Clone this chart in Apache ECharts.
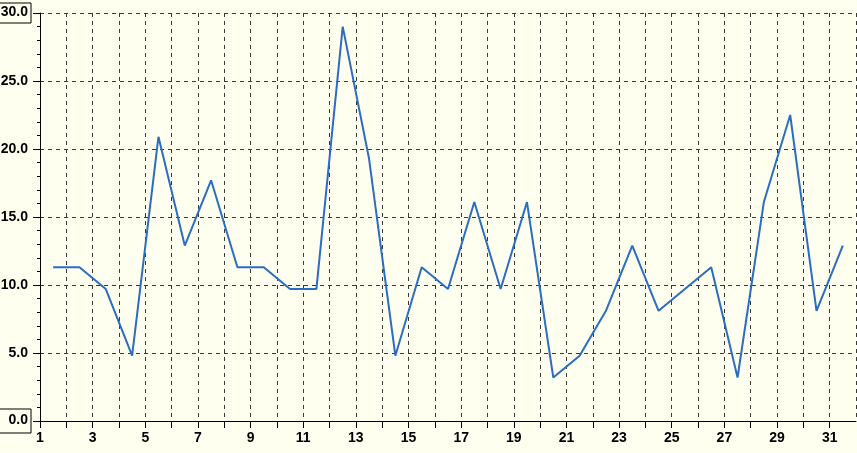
<!DOCTYPE html>
<html><head><meta charset="utf-8">
<script src="https://cdn.jsdelivr.net/npm/echarts@6/dist/echarts.min.js"></script>
<style>html,body{margin:0;padding:0;background:#FFFFF0;}#c{width:857px;height:453px;}</style>
</head><body><div id="c"></div>
<script>
const days = [1.5,2.5,3.5,4.5,5.5,6.5,7.5,8.5,9.5,10.5,11.5,12.5,13.5,14.5,15.5,16.5,17.5,18.5,19.5,20.5,21.5,22.5,23.5,24.5,25.5,26.5,27.5,28.5,29.5,30.5,31.5];
const values = [11.3,11.3,9.7,4.8,20.9,12.9,17.7,11.3,11.3,9.7,9.7,29.0,19.3,4.8,11.3,9.7,16.1,9.7,16.1,3.2,4.8,8.1,12.9,8.1,9.7,11.3,3.2,16.1,22.5,8.1,12.9];
const xTickLabels = ['1','3','5','7','9','11','13','15','17','19','21','23','25','27','29','31'];
const yMin = 0, yMax = 30, yStep = 5;

const chart = echarts.init(document.getElementById('c'), null, {renderer:'canvas'});
const font = '"Liberation Sans", Arial, sans-serif';
const txt = {fontWeight: 'bold', fontSize: 14, fontFamily: font, color: '#000', lineHeight: 14};
chart.setOption({
  backgroundColor: '#FFFFF0',
  animation: false,
  grid: {left: 40, right: 1, top: 13, bottom: 32, containLabel: false, outerBoundsMode: 'none'},
  xAxis: {
    type: 'value', min: 1, max: 32, interval: 1,
    axisLine: {show: true, lineStyle: {color: '#000', width: 1}},
    axisTick: {show: true, length: 7, lineStyle: {color: '#000'}},
    axisLabel: {
      margin: 10, color: '#000', fontWeight: 'bold', fontSize: 14, fontFamily: font,
      showMinLabel: true, showMaxLabel: false, hideOverlap: false,
      formatter: v => { const s = String(Math.round(v)); return xTickLabels.indexOf(s) >= 0 ? s : ''; }
    },
    splitLine: {show: true, lineStyle: {color: '#383838', type: [4,4], width: 1}}
  },
  yAxis: {
    type: 'value', min: yMin, max: yMax, interval: yStep,
    axisLine: {show: true, lineStyle: {color: '#000', width: 1}},
    axisTick: {show: true, length: 7, lineStyle: {color: '#000'}},
    minorTick: {show: true, splitNumber: 5, length: 3, lineStyle: {color: '#000'}},
    axisLabel: {
      margin: 9, color: '#000', fontWeight: 'bold', fontSize: 14, fontFamily: font, hideOverlap: false,
      formatter: v => {
        const t = v.toFixed(1);
        if (v === yMax) return '{bt|' + t + '}';
        if (v === yMin) return '{bb|' + t + '}';
        return '{n|' + t + '}';
      },
      rich: {
        n: Object.assign({padding: [0,3,0,0]}, txt),
        bt: Object.assign({borderColor: '#000', borderWidth: 1, padding: [2,3,4,2]}, txt),
        bb: Object.assign({borderColor: '#000', borderWidth: 1, padding: [4,3,6,10]}, txt)
      }
    },
    splitLine: {show: true, lineStyle: {color: '#383838', type: [4,4], width: 1}}
  },
  series: [{
    type: 'line',
    data: days.map((d, i) => [d, values[i]]),
    symbol: 'none',
    lineStyle: {color: '#2B6CC4', width: 2},
    itemStyle: {color: '#2B6CC4'}
  }]
});
</script></body></html>
